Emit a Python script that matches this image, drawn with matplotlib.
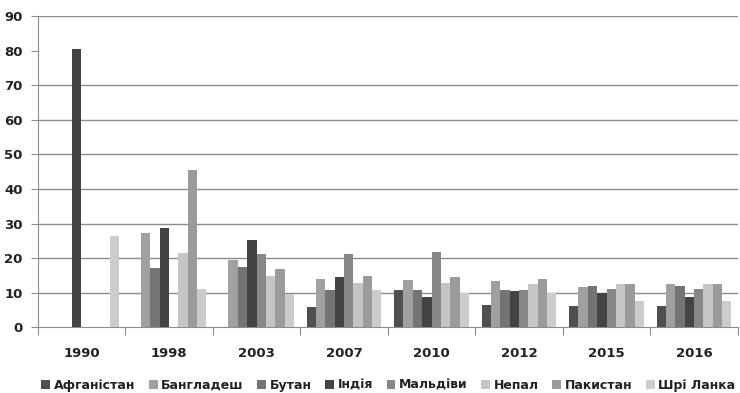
import matplotlib.pyplot as plt
import numpy as np

years = ['1990', '1998', '2003', '2007', '2010', '2012', '2015', '2016']
countries = ['Афганістан', 'Бангладеш', 'Бутан', 'Індія', 'Мальдіви', 'Непал', 'Пакистан', 'Шрі Ланка']
colors = ['#4f4f4f', '#a0a0a0', '#747474', '#444444', '#878787', '#c5c5c5', '#9b9b9b', '#cccccc']

# values per country, one per year (nan = no bar)
afghanistan = [np.nan, np.nan, np.nan, 5.9, 10.8, 6.5, 6.2, 6.2]
bangladesh = [np.nan, 27.2, 19.4, 14.0, 13.7, 13.4, 11.7, 12.5]
bhutan = [np.nan, 17.1, 17.4, 10.8, 10.8, 10.8, 11.9, 11.9]
india = [80.4, 28.6, 25.2, 14.5, 8.8, 10.5, 9.9, 8.8]
maldives = [np.nan, np.nan, 21.2, 21.2, 21.7, 10.8, 11.1, 11.1]
nepal = [np.nan, 21.4, 14.8, 12.8, 12.8, 12.5, 12.5, 12.5]
pakistan = [np.nan, 45.6, 16.8, 14.8, 14.5, 14.0, 12.5, 12.5]
sri_lanka = [26.3, 11.1, 9.6, 10.8, 9.9, 9.9, 7.6, 7.6]

series = [afghanistan, bangladesh, bhutan, india, maldives, nepal, pakistan, sri_lanka]

fig = plt.figure(figsize=(7.4, 3.93), dpi=100)
ax = fig.add_axes([0.051, 0.167, 0.946, 0.792])

x = np.arange(len(years))
w = 0.107
for i, (name, vals, c) in enumerate(zip(countries, series, colors)):
    ax.bar(x - 3.5 * w + i * w, vals, width=w, color=c, label=name, zorder=3)

ax.set_xlim(-0.5, 7.5)
ax.set_ylim(0, 90)
ax.set_yticks(range(0, 91, 10))
for v in [10, 20, 30, 40, 50, 60, 70, 90]:
    ax.axhline(v, color='#8c8c8c', lw=1, zorder=1)

ax.set_xticks(np.arange(-0.5, 8, 1))
ax.set_xticklabels([])
ax.set_xticks(x, minor=True)
ax.set_xticklabels(years, minor=True)
ax.tick_params(axis='x', which='major', length=6, color='#8c8c8c')
ax.tick_params(axis='x', which='minor', length=0, pad=14)
ax.tick_params(axis='y', length=5, color='#8c8c8c', pad=6)

for lab in ax.get_xticklabels(minor=True) + ax.get_yticklabels():
    lab.set_fontsize(9.5)
    lab.set_fontweight('bold')
    lab.set_color('#222222')

for s in ['top', 'right']:
    ax.spines[s].set_visible(False)
for s in ['left', 'bottom']:
    ax.spines[s].set_color('#8c8c8c')

fig.legend(loc='lower center', bbox_to_anchor=(0.525, -0.025), ncol=8, frameon=False,
           handlelength=0.7, handleheight=0.7, handletextpad=0.3, columnspacing=1.08,
           prop={'size': 9, 'weight': 'bold'}, labelcolor='#222222')

fig.savefig('out.png', dpi=100)
